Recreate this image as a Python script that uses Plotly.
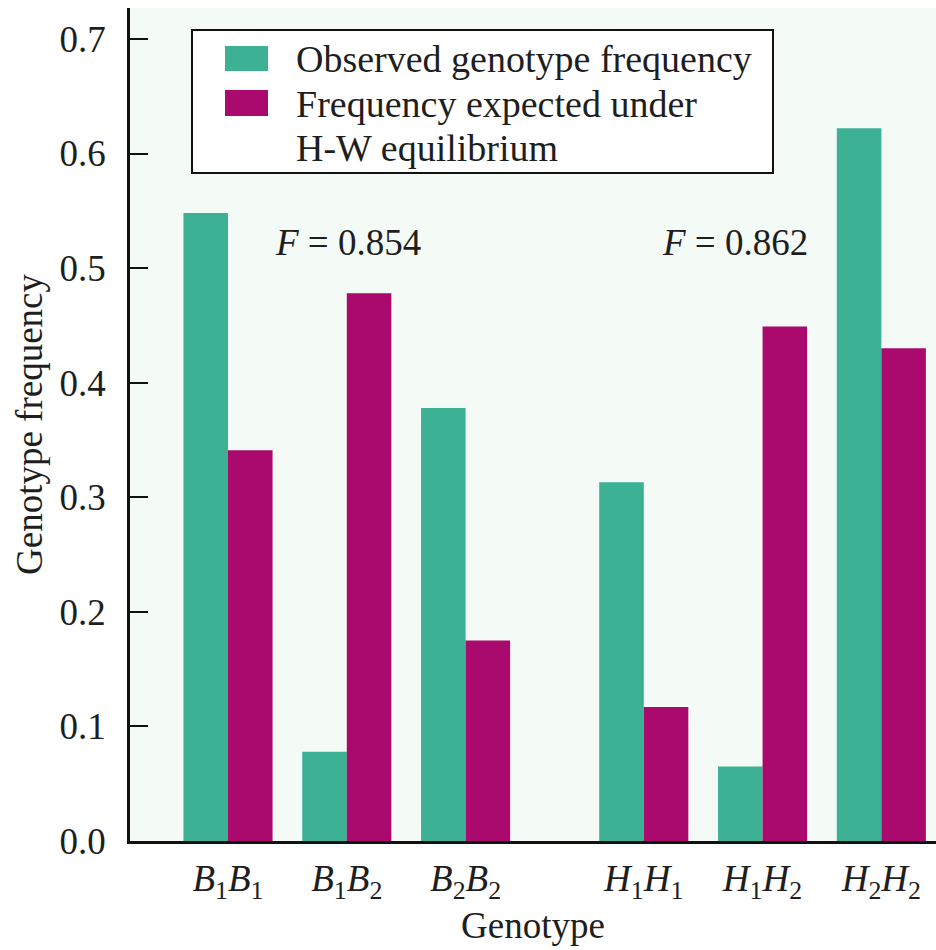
import plotly.graph_objects as go

# ---- data ----
genotypes = ["B1B1", "B1B2", "B2B2", "H1H1", "H1H2", "H2H2"]
tick_labels = [
    "<i>B</i><sub>1</sub><i>B</i><sub>1</sub>",
    "<i>B</i><sub>1</sub><i>B</i><sub>2</sub>",
    "<i>B</i><sub>2</sub><i>B</i><sub>2</sub>",
    "<i>H</i><sub>1</sub><i>H</i><sub>1</sub>",
    "<i>H</i><sub>1</sub><i>H</i><sub>2</sub>",
    "<i>H</i><sub>2</sub><i>H</i><sub>2</sub>",
]
x_positions = [0, 1, 2, 3.5, 4.5, 5.5]
observed = [0.548, 0.078, 0.378, 0.313, 0.065, 0.622]
expected = [0.341, 0.478, 0.175, 0.117, 0.449, 0.430]
y_ticks = [0.0, 0.1, 0.2, 0.3, 0.4, 0.5, 0.6, 0.7]
f_values = ["0.854", "0.862"]

TEAL = "#3db194"
MAGENTA = "#aa096e"
FONT = "'Liberation Serif', 'Times New Roman', 'DejaVu Serif', serif"
TXT = "#1e1e1e"

fig = go.Figure()
fig.add_trace(go.Bar(x=x_positions, y=observed, name="Observed genotype frequency",
                     marker=dict(color=TEAL, line=dict(width=0)), showlegend=False))
fig.add_trace(go.Bar(x=x_positions, y=expected, name="Frequency expected under H-W equilibrium",
                     marker=dict(color=MAGENTA, line=dict(width=0)), showlegend=False))

W, H = 936, 950
L, R, T, B = 130, 0, 8, 109
pw, ph = W - L - R, H - T - B

def px(xp):
    return (xp - L) / pw

def py(yp):
    return (H - B - yp) / ph

shapes = [
    dict(type="rect", xref="paper", yref="paper", x0=px(192), x1=px(773), y0=py(173), y1=py(30),
         line=dict(color="#111", width=2), fillcolor="white", layer="above"),
    dict(type="rect", xref="paper", yref="paper", x0=px(225), x1=px(268), y0=py(71), y1=py(46),
         line=dict(width=0), fillcolor=TEAL, layer="above"),
    dict(type="rect", xref="paper", yref="paper", x0=px(225), x1=px(268), y0=py(116), y1=py(90),
         line=dict(width=0), fillcolor=MAGENTA, layer="above"),
]

LEG = dict(family=FONT, size=38, color=TXT)
annotations = [
    dict(text="Observed genotype frequency", xref="paper", yref="paper", x=px(294), y=py(59),
         xanchor="left", yanchor="middle", showarrow=False, font=LEG),
    dict(text="Frequency expected under", xref="paper", yref="paper", x=px(294), y=py(104),
         xanchor="left", yanchor="middle", showarrow=False, font=LEG),
    dict(text="H-W equilibrium", xref="paper", yref="paper", x=px(294), y=py(148),
         xanchor="left", yanchor="middle", showarrow=False, font=LEG),
    dict(text="<i>F</i> = " + f_values[0], xref="x", yref="y", x=1.01, y=0.522,
         xanchor="center", yanchor="middle", showarrow=False, font=dict(family=FONT, size=37, color=TXT)),
    dict(text="<i>F</i> = " + f_values[1], xref="x", yref="y", x=4.27, y=0.522,
         xanchor="center", yanchor="middle", showarrow=False, font=dict(family=FONT, size=37, color=TXT)),
]

fig.update_layout(
    width=W, height=H,
    margin=dict(l=L, r=R, t=T, b=B, autoexpand=False),
    barmode="group", bargap=0.25, bargroupgap=0,
    paper_bgcolor="white", plot_bgcolor="#f4faf5",
    font=dict(family=FONT, size=37, color=TXT),
    shapes=shapes, annotations=annotations,
    xaxis=dict(range=[-0.825, 5.96], tickvals=x_positions, ticktext=tick_labels,
               showline=True, linecolor="#111", linewidth=2.5, ticks="", showgrid=False,
               zeroline=False, tickfont=dict(family=FONT, size=37, color=TXT),
               ticklabelstandoff=3,
               title=dict(text="Genotype", font=dict(family=FONT, size=37, color=TXT), standoff=0)),
    yaxis=dict(range=[0, 0.727], tickvals=y_ticks, ticktext=[f"{v:.1f}" for v in y_ticks],
               showline=True, linecolor="#111", linewidth=2.5, ticks="inside", ticklen=18,
               tickwidth=2, tickcolor="#111", showgrid=False, zeroline=False,
               tickfont=dict(family=FONT, size=37, color=TXT), ticklabelstandoff=14,
               title=dict(text="Genotype frequency", font=dict(family=FONT, size=37, color=TXT), standoff=6)),
)

fig.write_html("out.html")
